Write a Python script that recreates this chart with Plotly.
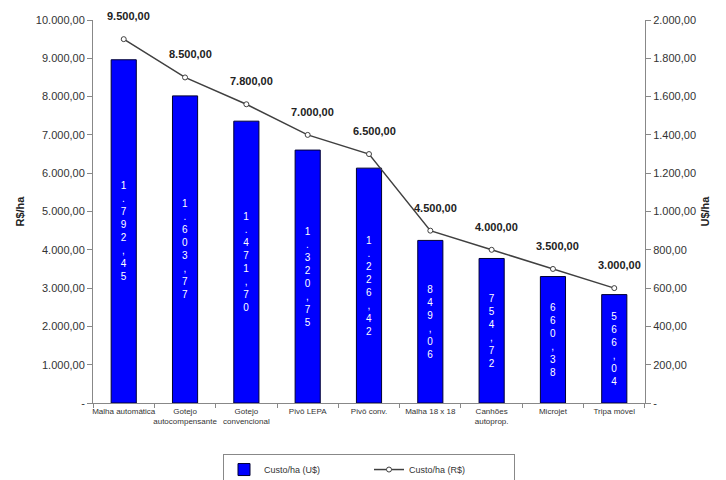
import plotly.graph_objects as go

categories = ["Malha automática", "Gotejo<br>autocompensante", "Gotejo<br>convencional",
              "Pivô LEPA", "Pivô conv.", "Malha 18 x 18", "Canhões<br>autoprop.",
              "Microjet", "Tripa móvel"]
custo_usd = [1792.45, 1603.77, 1471.70, 1320.75, 1226.42, 849.06, 754.72, 660.38, 566.04]
custo_brl = [9500, 8500, 7800, 7000, 6500, 4500, 4000, 3500, 3000]

left_ticks = [0, 1000, 2000, 3000, 4000, 5000, 6000, 7000, 8000, 9000, 10000]
right_ticks = [0, 200, 400, 600, 800, 1000, 1200, 1400, 1600, 1800, 2000]


def br(v):
    if v == 0:
        return "-"
    s = f"{v:,.2f}"
    return s.replace(",", "X").replace(".", ",").replace("X", ".")


def stacked(v):
    return "<br>".join(list(br(v)))


FONT = "Liberation Sans, Arial, sans-serif"

fig = go.Figure()
fig.add_trace(go.Bar(
    x=categories, y=custo_usd, name="Custo/ha (U$)",
    marker=dict(color="#0000FF", line=dict(color="#000033", width=1)),
    width=0.41,
    text=[stacked(v) for v in custo_usd],
    textposition="inside", insidetextanchor="middle", textangle=0,
    textfont=dict(color="white", size=10, family=FONT),
    yaxis="y",
))
fig.add_trace(go.Scatter(
    x=categories, y=custo_brl, name="Custo/ha (R$)",
    mode="lines+markers",
    line=dict(color="#404040", width=1.5),
    marker=dict(symbol="circle", size=5, color="white",
                line=dict(color="#404040", width=1)),
    yaxis="y2", cliponaxis=False,
))

for c, v in zip(categories, custo_brl):
    fig.add_annotation(x=c, y=v, xref="x", yref="y2", text=f"<b>{br(v)}</b>",
                       showarrow=False, yshift=23, xshift=5,
                       font=dict(size=11, color="#222222", family=FONT))

axis_common = dict(showgrid=False, zeroline=False, showline=True, linecolor="#888888",
                   linewidth=1, ticks="outside", ticklen=5, tickcolor="#888888",
                   automargin=False,
                   tickfont=dict(size=11, color="#333333", family=FONT))

fig.update_layout(
    width=718, height=472,
    margin=dict(l=85, r=81, t=12, b=77),
    paper_bgcolor="white", plot_bgcolor="white",
    font=dict(family=FONT, color="#333333"),
    bargap=0.59,
    xaxis=dict(showgrid=False, showline=True, linecolor="#888888", ticks="outside",
               ticklen=4, tickcolor="#888888", tickson="boundaries", automargin=False,
               tickfont=dict(size=8, color="#333333", family=FONT), tickangle=0),
    yaxis=dict(range=[0, 2000], side="right", tickvals=right_ticks,
               ticktext=[br(v) for v in right_ticks],
               title=dict(text="<b>U$/ha</b>", font=dict(size=11, color="#222222"), standoff=6),
               **axis_common),
    yaxis2=dict(range=[0, 10000], side="left", overlaying="y", tickvals=left_ticks,
                ticktext=[br(v) for v in left_ticks],
                title=dict(text="<b>R$/ha</b>", font=dict(size=11, color="#222222"), standoff=9),
                **axis_common),
    legend=dict(orientation="h", xref="paper", x=0.5, xanchor="center",
                yref="container", y=0.055, yanchor="top",
                bordercolor="#888888", borderwidth=1, bgcolor="white",
                font=dict(size=9, color="#333333", family=FONT),
                itemwidth=30, entrywidth=100),
    showlegend=True,
)

fig.write_html("out.html")
